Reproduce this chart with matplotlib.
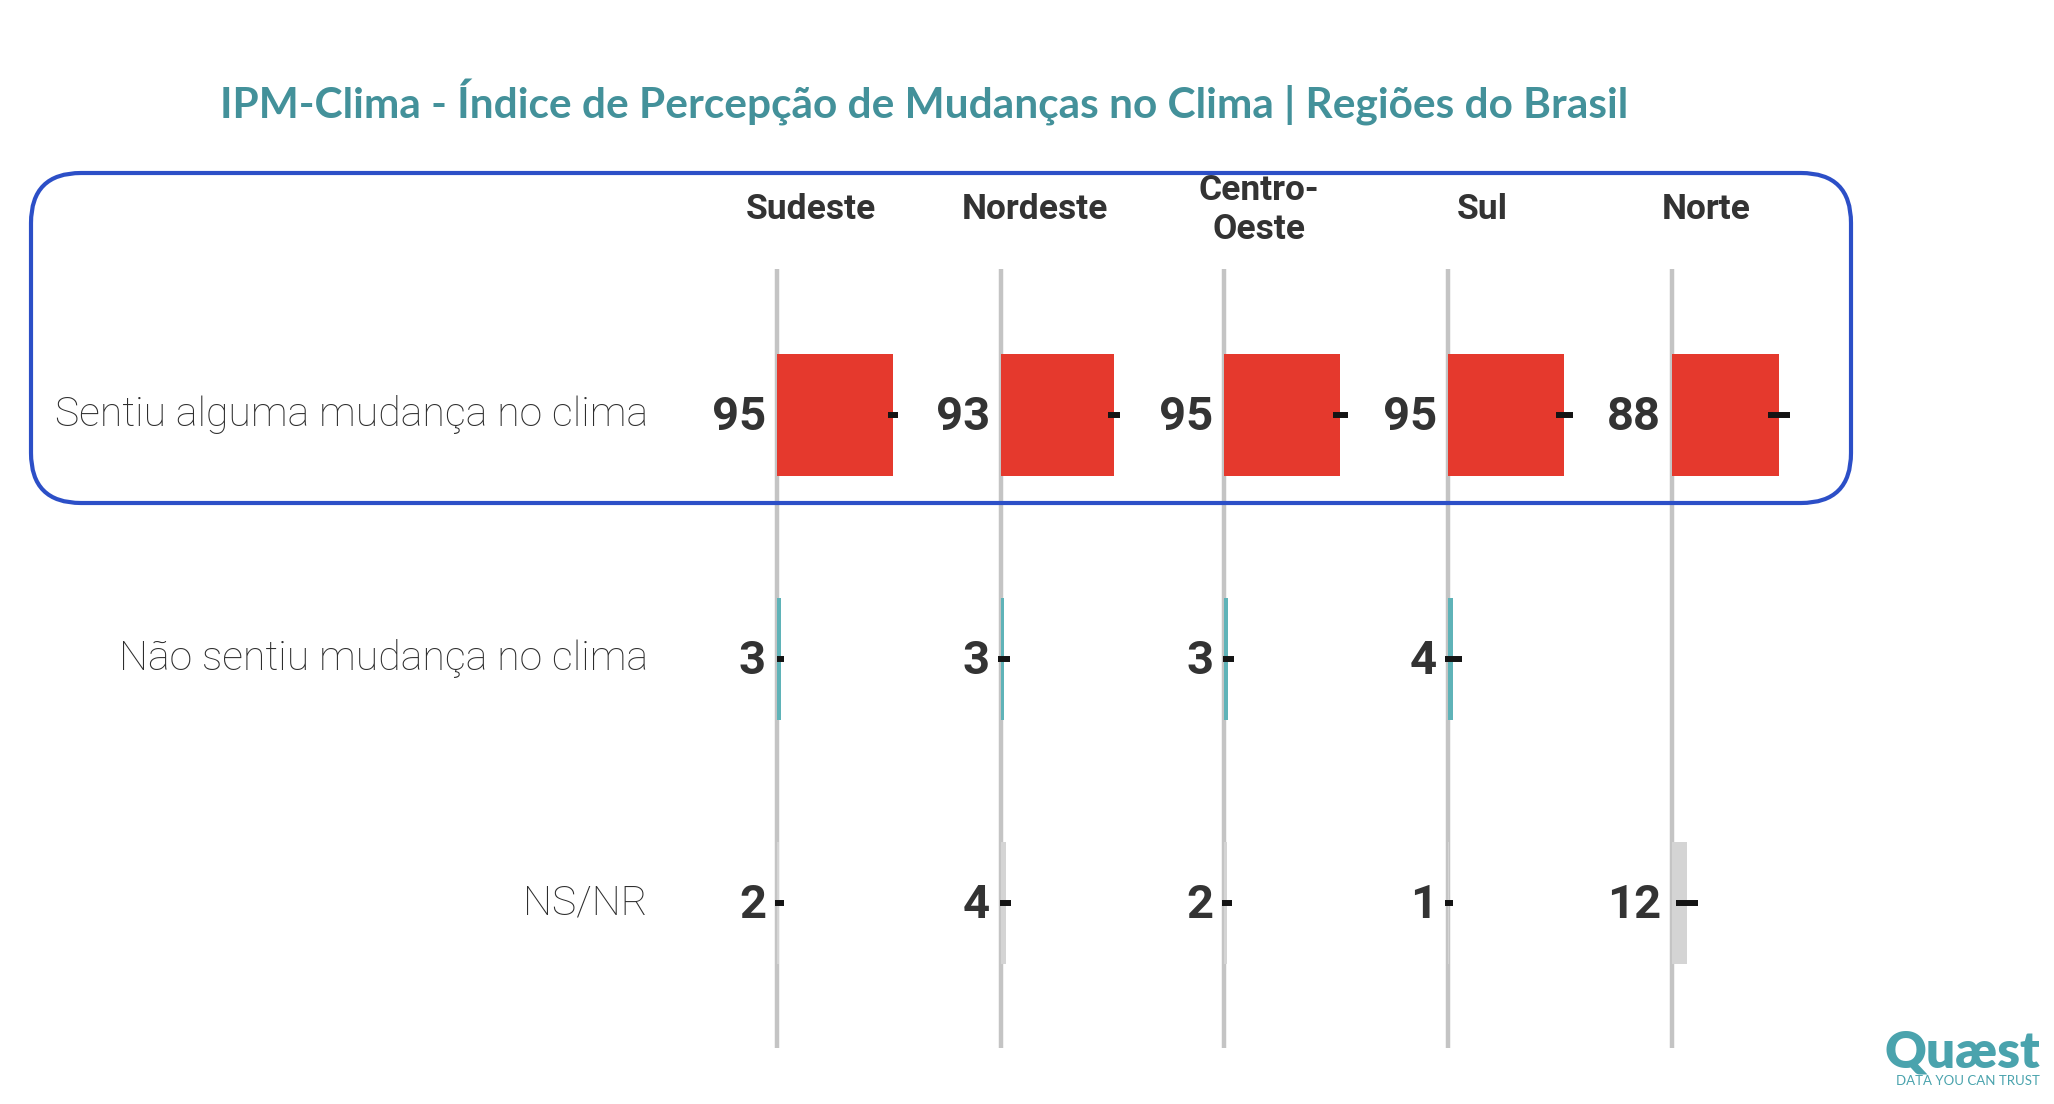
import numpy as np
import matplotlib
matplotlib.use('Agg')
import matplotlib.pyplot as plt
from matplotlib.patches import FancyBboxPatch

# dados
regioes = ['Sudeste', 'Nordeste', 'Centro-\nOeste', 'Sul', 'Norte']
respostas = ['Sentiu alguma mudança no clima', 'Não sentiu mudança no clima', 'NS/NR']
sentiu = [95, 93, 95, 95, 88]
nao_sentiu = [3, 3, 3, 4, 0]
ns_nr = [2, 4, 2, 1, 12]
# margem (traco preto na ponta de cada barra)
erro_sentiu = [4, 5, 6, 7, 9]
erro_nao_sentiu = [3, 5, 4.5, 7, 0]
erro_ns_nr = [3.5, 4.5, 4, 3.3, 9]

valores = [sentiu, nao_sentiu, ns_nr]
erros = [erro_sentiu, erro_nao_sentiu, erro_ns_nr]
cores = ['#e5392d', '#5fb3b8', '#d4d4d4']

fig = plt.figure(figsize=(20.54, 11.04), dpi=100)
fig.patch.set_facecolor('white')

W, H = 2054, 1104
ax = fig.add_axes([700 / W, 1 - 1048 / H, 1150 / W, (1048 - 269) / H])
ax.set_xlim(-63.1, 879.5)
ax.set_ylim(2.594, -0.598)
ax.axis('off')

passo = 183.4
offsets = np.arange(len(regioes)) * passo

for off in offsets:
    ax.axvline(off, color='#c4c4c4', lw=3.2, zorder=1)

for r, (vals, errs) in enumerate(zip(valores, erros)):
    for i, off in enumerate(offsets):
        v = vals[i]
        if v == 0:
            continue
        ax.barh(r, v, left=off, height=0.5, color=cores[r], zorder=2)
        ax.errorbar(off + v, r, xerr=errs[i], fmt='none', ecolor='#141414',
                    elinewidth=4.3, capsize=0, zorder=4)
        ax.text(off - 9, r + 0.01, str(v), ha='right', va='center', fontsize=34,
                fontweight='bold', family='Roboto', color='#333333', zorder=5)

for r, lab in enumerate(respostas):
    ax.text(-106, r, lab, ha='right', va='center', fontsize=29.5,
            fontweight='light', family='Roboto', color='#2e2e2e', clip_on=False)

for i, off in enumerate(offsets):
    ax.text(off + 28, -0.84, regioes[i], ha='center', va='center', fontsize=25.5,
            fontweight='bold', family='Roboto', color='#333333',
            linespacing=1.2, clip_on=False)

# caixa arredondada em volta da primeira linha
caixa = FancyBboxPatch((0.31, 6.01), 18.20, 3.30,
                       boxstyle='round,pad=0,rounding_size=0.5',
                       transform=fig.dpi_scale_trans, fill=False,
                       edgecolor='#2c4fc7', lw=3)
fig.patches.append(caixa)

fig.text(924.5 / W, 1 - 119 / H,
         'IPM-Clima - Índice de Percepção de Mudanças no Clima | Regiões do Brasil',
         ha='center', va='baseline', fontsize=30.5, fontweight='bold',
         family='Lato', color='#43919a')

# logo
fig.text(2040 / W, 1 - 1068 / H, 'Quæst', ha='right', va='baseline',
         fontsize=37, fontweight='heavy', family='Lato', color='#4aa3ad')
fig.text(2040 / W, 1 - 1085 / H, 'DATA YOU CAN TRUST', ha='right',
         va='baseline', fontsize=9.5, family='Lato', color='#4aa3ad')

fig.savefig('out.png', dpi=100, facecolor='white')
